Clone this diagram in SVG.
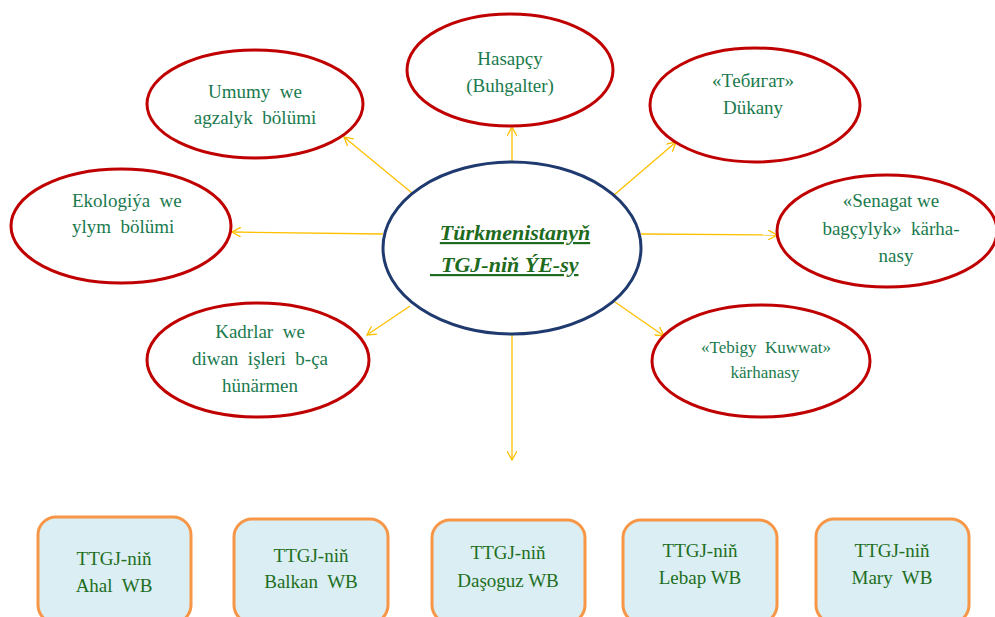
<svg xmlns="http://www.w3.org/2000/svg" width="995" height="617" viewBox="0 0 995 617">
<style>
.oval{fill:#fff;stroke:#C00000;stroke-width:3}
.box{fill:#DAEEF3;stroke:#F79646;stroke-width:3}
.t{font-family:"Liberation Serif","Times New Roman","DejaVu Serif",serif;font-size:19px;fill:#1A7A4E}
.bt{font-family:"Liberation Serif","Times New Roman","DejaVu Serif",serif;font-size:19px;fill:#1E6E1E;text-anchor:middle}
.c{font-family:"Liberation Serif","Times New Roman","DejaVu Serif",serif;font-size:22px;font-weight:bold;font-style:italic;fill:#1E6B1E;text-decoration:underline}
.ln{stroke:#FFC000;stroke-width:1.3;fill:none;marker-end:url(#ar)}
</style>
<defs>
<marker id="ar" viewBox="0 0 10 10" refX="9" refY="5" markerWidth="10" markerHeight="10" markerUnits="userSpaceOnUse" orient="auto">
<path d="M0,0 L9,5 L0,10" fill="none" stroke="#FFC000" stroke-width="1.3"/>
</marker>
</defs>
<rect width="995" height="617" fill="#fff"/>
<g id="connectors">
<line class="ln" x1="512" y1="162" x2="512" y2="127"/>
<line class="ln" x1="412" y1="193" x2="344" y2="137"/>
<line class="ln" x1="383" y1="234" x2="232" y2="232"/>
<line class="ln" x1="410" y1="306" x2="367" y2="335"/>
<line class="ln" x1="614" y1="195" x2="676" y2="142"/>
<line class="ln" x1="641" y1="234" x2="777" y2="235"/>
<line class="ln" x1="615" y1="302" x2="664" y2="336"/>
<line class="ln" x1="512" y1="334" x2="512" y2="460"/>
</g>
<g id="center">
<ellipse cx="512" cy="248" rx="129" ry="86" fill="#fff" stroke="#1F3A6E" stroke-width="3"/>
<text class="c" x="515" y="240" text-anchor="middle">Türkmenistanyň</text>
<text class="c" x="430" y="272" xml:space="preserve">  TGJ-niň ÝE-sy</text>
</g>
<g id="hasapcy" text-anchor="middle">
<ellipse class="oval" cx="510" cy="70" rx="103" ry="56"/>
<text class="t" x="510" y="65">Hasapçy</text>
<text class="t" x="510" y="92">(Buhgalter)</text>
</g>
<g id="umumy" text-anchor="middle">
<ellipse class="oval" cx="255" cy="104" rx="108" ry="54"/>
<text class="t" x="255" y="98" xml:space="preserve">Umumy  we</text>
<text class="t" x="255" y="124" xml:space="preserve">agzalyk  bölümi</text>
</g>
<g id="ekologiya" text-anchor="start">
<ellipse class="oval" cx="121" cy="226" rx="110" ry="57"/>
<text class="t" x="72" y="207" xml:space="preserve">Ekologiýa  we</text>
<text class="t" x="72" y="233" xml:space="preserve">ylym  bölümi</text>
</g>
<g id="kadrlar" text-anchor="middle">
<ellipse class="oval" cx="258" cy="360" rx="111" ry="57"/>
<text class="t" x="260" y="338" xml:space="preserve">Kadrlar  we</text>
<text class="t" x="260" y="365" xml:space="preserve">diwan  işleri  b-ça</text>
<text class="t" x="260" y="392">hünärmen</text>
</g>
<g id="tebigat" text-anchor="middle">
<ellipse class="oval" cx="755" cy="105" rx="105" ry="57"/>
<text class="t" x="753" y="87">«Тебигат»</text>
<text class="t" x="753" y="114">Dükany</text>
</g>
<g id="senagat" text-anchor="middle">
<ellipse class="oval" cx="887" cy="231" rx="110" ry="56"/>
<text class="t" x="891" y="207">«Senagat we</text>
<text class="t" x="891" y="235" xml:space="preserve">bagçylyk»  kärha-</text>
<text class="t" x="896" y="262">nasy</text>
</g>
<g id="kuwwat" text-anchor="middle">
<ellipse class="oval" cx="761" cy="361" rx="109" ry="56"/>
<text class="t" x="766" y="353" style="font-size:17px" xml:space="preserve">«Tebigy  Kuwwat»</text>
<text class="t" x="765" y="378" style="font-size:17px">kärhanasy</text>
</g>
<g id="ahal">
<rect class="box" x="38" y="517" width="153" height="106" rx="18"/>
<text class="bt" x="114" y="565">TTGJ-niň</text>
<text class="bt" x="114" y="592" xml:space="preserve">Ahal  WB</text>
</g>
<g id="balkan">
<rect class="box" x="234" y="519" width="154" height="104" rx="18"/>
<text class="bt" x="311" y="562">TTGJ-niň</text>
<text class="bt" x="311" y="588" xml:space="preserve">Balkan  WB</text>
</g>
<g id="dasoguz">
<rect class="box" x="432" y="520" width="153" height="103" rx="18"/>
<text class="bt" x="508" y="559">TTGJ-niň</text>
<text class="bt" x="508" y="587">Daşoguz WB</text>
</g>
<g id="lebap">
<rect class="box" x="623" y="520" width="154" height="103" rx="18"/>
<text class="bt" x="700" y="557">TTGJ-niň</text>
<text class="bt" x="700" y="584">Lebap WB</text>
</g>
<g id="mary">
<rect class="box" x="816" y="519" width="153" height="104" rx="18"/>
<text class="bt" x="892" y="557">TTGJ-niň</text>
<text class="bt" x="892" y="584" xml:space="preserve">Mary  WB</text>
</g>
</svg>
